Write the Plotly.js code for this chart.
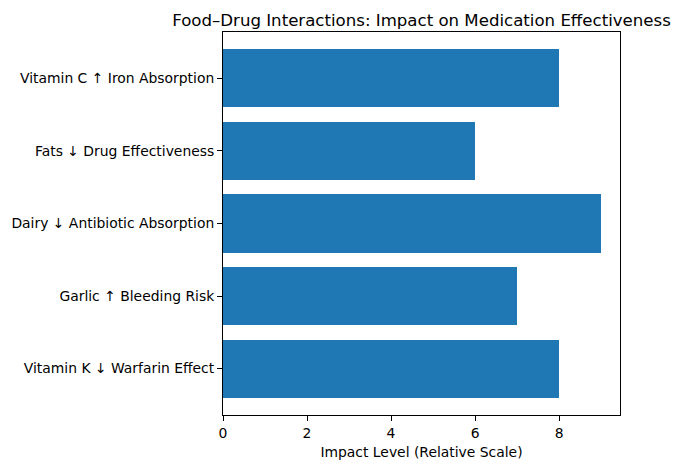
<!DOCTYPE html>
<html>
<head>
<meta charset="utf-8">
<script src="https://cdn.plot.ly/plotly-3.0.1.min.js"></script>
<style>html,body{margin:0;padding:0;background:#fff;}#chart{width:681px;height:470px;}</style>
</head>
<body>
<div id="chart"></div>
<script>
const categories = [
  "Vitamin K ↓ Warfarin Effect",
  "Garlic ↑ Bleeding Risk",
  "Dairy ↓ Antibiotic Absorption",
  "Fats ↓ Drug Effectiveness",
  "Vitamin C ↑ Iron Absorption"
];
const impactValues = [8, 7, 9, 6, 8];
const xTickValues = [0, 2, 4, 6, 8];

const font = "DejaVu Sans, sans-serif";
const trace = {
  type: "bar",
  orientation: "h",
  x: impactValues,
  y: categories.map((c, i) => i),
  width: 0.8,
  marker: {color: "#1f77b4", line: {width: 0}},
  hoverinfo: "skip"
};
const layout = {
  width: 681, height: 470,
  margin: {l: 223, r: 61, t: 32, b: 55},
  paper_bgcolor: "#fff", plot_bgcolor: "#fff",
  font: {family: font, size: 13.9, color: "#000"},
  showlegend: false,
  bargap: 0,
  title: {
    text: "Food–Drug Interactions: Impact on Medication Effectiveness",
    font: {family: font, size: 16.6, color: "#000"},
    x: 0.5, xref: "paper", xanchor: "center",
    y: 1, yref: "paper", yanchor: "bottom",
    pad: {b: 6}
  },
  xaxis: {
    range: [0, 9.45],
    tickmode: "array", tickvals: xTickValues, ticktext: xTickValues.map(String),
    ticks: "outside", ticklen: 5, tickwidth: 1, tickcolor: "#000",
    showline: true, linecolor: "#000", linewidth: 1, mirror: true,
    showgrid: false, zeroline: false,
    tickfont: {family: font, size: 13.9, color: "#000"},
    title: {text: "Impact Level (Relative Scale)", font: {family: font, size: 13.9, color: "#000"}, standoff: 7}
  },
  yaxis: {
    range: [-0.64, 4.64],
    tickmode: "array", tickvals: categories.map((c, i) => i), ticktext: categories,
    ticks: "outside", ticklen: 5, tickwidth: 1, tickcolor: "#000",
    showline: true, linecolor: "#000", linewidth: 1, mirror: true,
    showgrid: false, zeroline: false,
    tickfont: {family: font, size: 13.9, color: "#000"}
  }
};
Plotly.newPlot("chart", [trace], layout, {staticPlot: true, displayModeBar: false});
</script>
</body>
</html>
